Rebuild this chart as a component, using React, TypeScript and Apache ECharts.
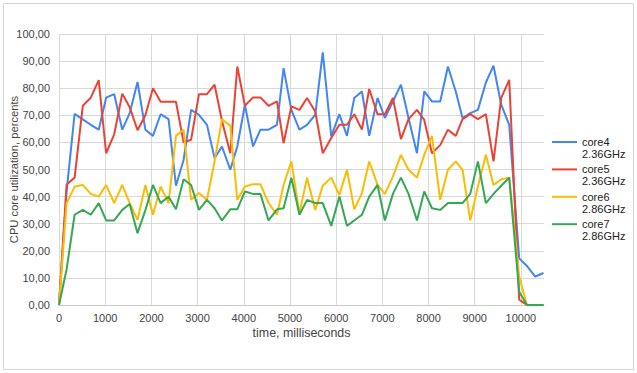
import React, { useEffect, useRef } from "react";
import * as echarts from "echarts";

const times = [
  0, 165, 338, 515, 688, 860, 1020, 1195, 1370, 1530,
  1700, 1870, 2034, 2200, 2372, 2532, 2697, 2860, 3030, 3203,
  3368, 3528, 3708, 3860, 4025, 4200, 4360, 4537, 4719, 4862,
  5030, 5205, 5370, 5548, 5710, 5894, 6070, 6234, 6392, 6558,
  6716, 6896, 7055, 7229, 7403, 7567, 7749, 7907, 8074, 8253,
  8420, 8590, 8736, 8903, 9069, 9242, 9407, 9574, 9747, 9963,
  10130, 10310, 10490,
];

const core4 = [
  0, 42, 70.5, 68.5, 66.5, 64.7, 76.5, 77.8, 64.7, 70.8,
  82.3, 64.7, 62.4, 70.4, 68.6, 44, 53.5, 72, 70.2, 66.5,
  54.2, 58.5, 49.9, 58.5, 73.9, 58.5, 64.7, 64.7, 66.5, 87.4,
  72, 64.7, 66.5, 70.2, 93.2, 62.2, 70.4, 62.4, 76.4, 78.8,
  62.4, 76.4, 69, 75.1, 81.3, 69, 56, 78.8, 75.1, 75.1,
  88, 78.8, 69, 70.8, 72, 82.1, 88.3, 73.9, 66.5, 17.2,
  14.4, 10.5, 11.8,
];

const core5 = [
  0, 44.5, 47, 73.5, 76.5, 83, 56, 63, 78, 73,
  64.5, 70, 80, 75, 75, 75, 60, 61, 77.8, 77.8,
  81.3, 68, 56, 88, 73.5, 76.6, 76.6, 73.5, 75.1, 59.7,
  73.3, 72, 76.4, 71.4, 56, 61.6, 66.5, 66.5, 70.4, 64.7,
  79.7, 70.4, 70.4, 76.4, 61.2, 68.6, 72, 68.3, 56, 59,
  64.7, 62.4, 68.6, 70.4, 68.6, 70.4, 53, 76.4, 83.1, 2,
  0, 0, 0,
];

const core6 = [
  0, 37.6, 43.7, 44.3, 41, 40, 44.3, 37.6, 44.3, 37.6,
  31.4, 44.3, 33.3, 43.7, 37.6, 62.4, 64.7, 38.8, 41.3, 38.8,
  53, 68.6, 66.1, 38.8, 43.7, 44.6, 44.6, 37.6, 33.3, 44.3,
  53, 33.9, 47, 35.1, 44, 47, 40.6, 49.9, 35.3, 41.3,
  53, 44.3, 41, 47.4, 55.4, 49.9, 47, 55.4, 62.4, 38.8,
  49.9, 53, 49.9, 31.2, 43.7, 55.4, 44.3, 46.4, 47, 10.5,
  0, 0, 0,
];

const core7 = [
  0, 13.2, 33.3, 35.1, 33.3, 37.6, 31.2, 31.2, 35.1, 37.3,
  26.5, 35, 44.3, 37.6, 40, 35.3, 46.4, 44.3, 35.1, 38.8,
  35.7, 31.2, 35.3, 35.3, 41.9, 41, 41, 31.2, 35.3, 35.7,
  47, 33.3, 38.8, 37.6, 37.6, 29.2, 40, 29.2, 31.2, 33.3,
  40, 44.3, 31.2, 41, 47, 41, 31.2, 41.9, 35.7, 35.1,
  37.6, 37.6, 37.6, 41, 53, 37.6, 41, 44, 47, 4.9,
  0, 0, 0,
];

const seriesNames = ["core4", "core5", "core6", "core7"];
const seriesFreqs = ["2.36GHz", "2.36GHz", "2.86GHz", "2.86GHz"];
const seriesColors = ["#4285F4", "#EA4335", "#FBBC04", "#34A853"];
const seriesValues = [core4, core5, core6, core7];

const xTitle = "time, milliseconds";
const yTitle = "CPU core utilization, percents";

const FONT = "'Liberation Sans', Arial, sans-serif";

export default function App() {
  const ref = useRef<HTMLDivElement>(null);

  useEffect(() => {
    if (!ref.current) return;
    const chart = echarts.init(ref.current, undefined, { renderer: "svg" });
    const splitColors: string[] = [];
    for (let i = 0; i < 11; i++) splitColors.push("#d9d9d9");
    splitColors.push("rgba(0,0,0,0)");

    chart.setOption({
      animation: false,
      backgroundColor: "#ffffff",
      textStyle: { fontFamily: FONT },
      graphic: [
        {
          type: "rect",
          shape: { x: 3.5, y: 3.5, width: 630, height: 366 },
          style: { fill: "none", stroke: "#d4d4d4", lineWidth: 1 },
          silent: true,
        },
      ],
      grid: {
        left: 59,
        right: 93,
        top: 34,
        bottom: 68,
        containLabel: false,
        outerBoundsMode: "none",
      },
      legend: {
        orient: "vertical",
        left: 552,
        top: 124,
        padding: 0,
        icon: "rect",
        itemWidth: 25,
        itemHeight: 2,
        itemGap: -8.6,
        data: seriesNames,
        formatter: (name: string) => {
          const i = seriesNames.indexOf(name);
          return "\n" + name + "\n" + seriesFreqs[i];
        },
        textStyle: {
          fontFamily: FONT,
          fontSize: 11,
          color: "#222222",
          lineHeight: 12,
        },
      },
      xAxis: {
        type: "value",
        min: 0,
        max: 10500,
        interval: 1000,
        name: xTitle,
        nameLocation: "middle",
        nameGap: 22,
        nameMoveOverlap: false,
        nameTextStyle: { fontFamily: FONT, fontSize: 12.4, color: "#444444" },
        axisLine: { show: true, lineStyle: { color: "#cccccc", width: 1 } },
        axisTick: { show: false },
        axisLabel: {
          fontFamily: FONT,
          fontSize: 11,
          color: "#444444",
          margin: 7,
          showMaxLabel: false,
          formatter: (v: number) => String(v),
        },
        splitLine: { show: true, lineStyle: { color: splitColors, width: 1 } },
      },
      yAxis: {
        type: "value",
        min: 0,
        max: 100,
        interval: 10,
        name: yTitle,
        nameLocation: "middle",
        nameGap: 40,
        nameMoveOverlap: false,
        nameTextStyle: { fontFamily: FONT, fontSize: 11.2, color: "#444444" },
        axisLine: { show: false },
        axisTick: { show: false },
        axisLabel: {
          fontFamily: FONT,
          fontSize: 11,
          color: "#444444",
          margin: 9,
          formatter: (v: number) => v.toFixed(2).replace(".", ","),
        },
        splitLine: { show: true, lineStyle: { color: "#d9d9d9", width: 1 } },
      },
      series: seriesNames.map((name, si) => ({
        name,
        type: "line",
        showSymbol: false,
        symbol: "none",
        color: seriesColors[si],
        lineStyle: { width: 2, color: seriesColors[si] },
        data: times.map((t, i) => [t, seriesValues[si][i]]),
      })),
    });

    return () => chart.dispose();
  }, []);

  return (
    <div
      ref={ref}
      style={{ position: "absolute", left: 0, top: 0, width: 637, height: 373 }}
    />
  );
}
